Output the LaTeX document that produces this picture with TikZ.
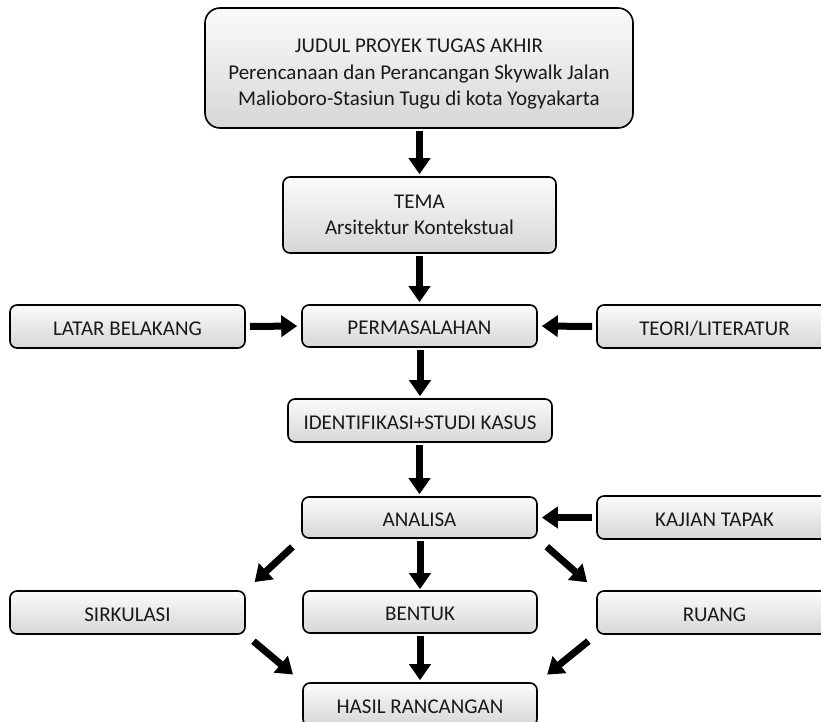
\documentclass[tikz,border=0pt]{standalone}
\usepackage{fontspec}
\setmainfont{Carlito}
\usetikzlibrary{arrows.meta,calc}
\begin{document}
\begin{tikzpicture}[x=1pt,y=-1pt,
  box/.style={draw=black,line width=1.6pt,rounded corners=7pt,
    top color=white!97!gray,bottom color=gray!32,
    inner sep=0pt,align=center,font=\fontsize{21}{26.5}\selectfont,text=black!90},
  onebox/.style={box,text height=17pt,text depth=0pt},
  label/.style={inner sep=0pt,align=center,font=\fontsize{21}{26.5}\selectfont,text=black!90},
  arr/.style={line width=7pt,-{Triangle[width=21pt,length=16pt]}}]
\useasboundingbox (0,0) rectangle (821,722);
\clip (0,0) rectangle (821,722);
\fill[white] (0,0) rectangle (821,722);
\node[box,rounded corners=15pt,minimum width=428pt,minimum height=120pt] (top) at (419,68) {};
\node[label] (toptext) at (419,74)
  {JUDUL PROYEK TUGAS AKHIR\\Perencanaan dan Perancangan Skywalk Jalan\\Malioboro-Stasiun Tugu di kota Yogyakarta};
\node[box,minimum width=273pt,minimum height=76pt] (tema) at (419.5,215) {TEMA\\Arsitektur Kontekstual};
\node[onebox,minimum width=235pt,minimum height=42pt] (perm) at (419.5,326) {PERMASALAHAN};
\node[onebox,minimum width=235pt,minimum height=43pt] (latar) at (127.5,326.5) {LATAR BELAKANG};
\node[onebox,minimum width=235pt,minimum height=43pt] (teori) at (714.5,326.5) {TEORI/LITERATUR};
\node[onebox,minimum width=264pt,minimum height=43pt] (ident) at (420,420.5) {IDENTIFIKASI+STUDI KASUS};
\node[onebox,minimum width=235pt,minimum height=41pt] (analisa) at (419.5,517.5) {ANALISA};
\node[onebox,minimum width=235pt,minimum height=43pt] (kajian) at (714.5,517.5) {KAJIAN TAPAK};
\node[onebox,minimum width=235pt,minimum height=43pt] (sirk) at (127.5,612.5) {SIRKULASI};
\node[onebox,minimum width=234pt,minimum height=42pt] (bentuk) at (420,612) {BENTUK};
\node[onebox,minimum width=235pt,minimum height=43pt] (ruang) at (714.5,612.5) {RUANG};
\node[onebox,minimum width=234pt,minimum height=43pt] (hasil) at (420,704.5) {HASIL RANCANGAN};
% vertical arrows
\draw[arr,shorten <=2pt,shorten >=2pt] (tema.north |- top.south) -- (tema.north);
\draw[arr,shorten <=2pt,shorten >=2pt] (perm.north |- tema.south) -- (perm.north);
\draw[arr,shorten <=2pt,shorten >=2pt] (ident.north |- perm.south) -- (ident.north);
\draw[arr,shorten <=2pt,shorten >=2pt] (analisa.north |- ident.south) -- (analisa.north);
\draw[arr,shorten <=2pt,shorten >=1pt] (bentuk.north |- analisa.south) -- (bentuk.north);
\draw[arr,shorten <=2pt,shorten >=2pt] (hasil.north |- bentuk.south) -- (hasil.north);
% horizontal arrows
\draw[arr,shorten <=4pt,shorten >=4pt] (latar.east) -- (perm.west);
\draw[arr,shorten <=4pt,shorten >=4pt] (teori.west) -- (perm.east);
\draw[arr,shorten <=4pt,shorten >=4pt] (kajian.west) -- (analisa.east);
% diagonal arrows
\draw[arr,shorten <=12pt,shorten >=12pt] (analisa.south west) -- (sirk.north east);
\draw[arr,shorten <=12pt,shorten >=12pt] (analisa.south east) -- (ruang.north west);
\draw[arr,shorten <=10pt,shorten >=12pt] (sirk.south east) -- (hasil.north west);
\draw[arr,shorten <=10pt,shorten >=12pt] (ruang.south west) -- (hasil.north east);
\end{tikzpicture}
\end{document}
